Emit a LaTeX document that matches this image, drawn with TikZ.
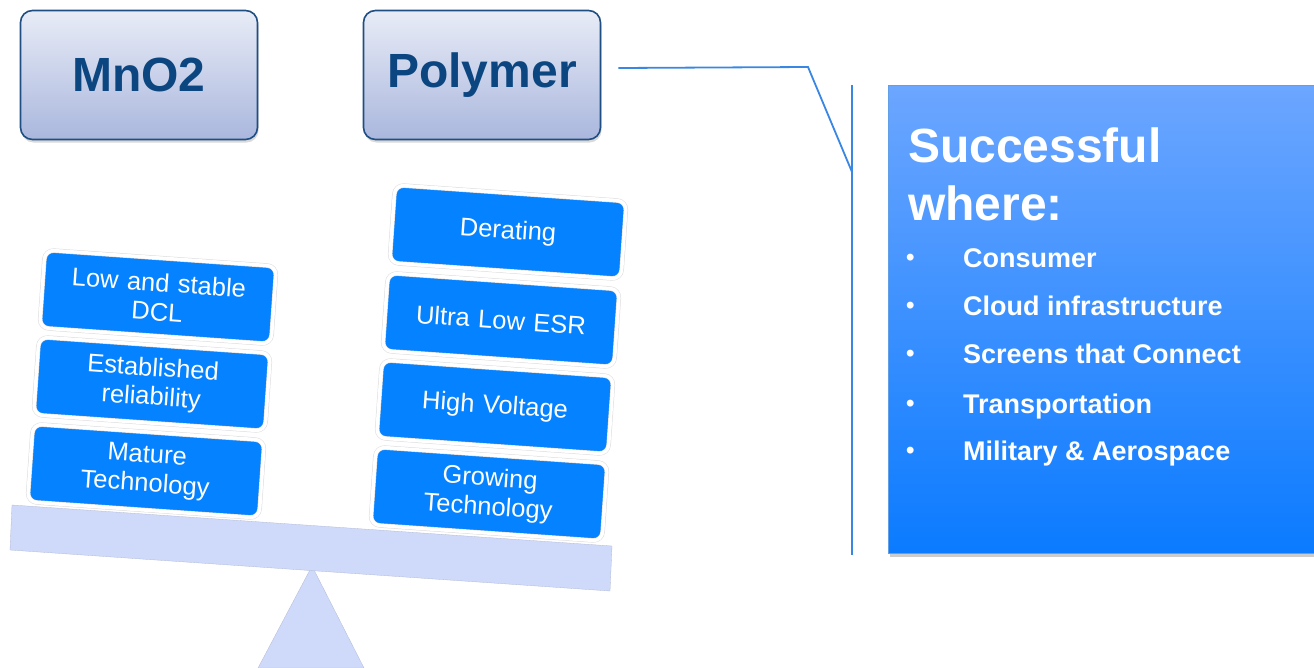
\documentclass[tikz,border=0pt]{standalone}
\usepackage{fontspec}
\setmainfont{Liberation Sans}
\usetikzlibrary{shadows}
\definecolor{hdrborder}{HTML}{1F4E82}
\definecolor{hdrtop}{HTML}{E8ECF7}
\definecolor{hdrbot}{HTML}{AAB7DD}
\definecolor{hdrtext}{HTML}{0B4680}
\definecolor{tileblue}{HTML}{0582FF}
\definecolor{beamcol}{HTML}{CFDAFA}
\definecolor{conncol}{HTML}{3A87E3}
\definecolor{bigtop}{HTML}{6CA6FF}
\definecolor{bigbot}{HTML}{0B7BFF}
\begin{document}
\begin{tikzpicture}[x=1pt,y=-1pt,
  hdr/.style={draw=hdrborder, line width=1.6pt, rounded corners=12pt,
    top color=hdrtop, bottom color=hdrbot, minimum width=237pt, minimum height=129pt,
    text=hdrtext, font=\fontsize{48}{56}\selectfont\bfseries,
    drop shadow={opacity=0.3,shadow xshift=1pt,shadow yshift=-3pt}},
  tile/.style={rectangle, rounded corners=9pt, fill=tileblue, draw=black!14,
    double=white, double distance=3.5pt, line width=0.5pt,
    minimum width=232pt, minimum height=78pt, text width=225pt, align=center,
    text=white, font=\fontsize{25.5}{29}\selectfont, rotate=-4, inner sep=0pt},
  beam/.style={fill=beamcol, draw=beamcol!85!black, line width=0.3pt},
  conn/.style={draw=conncol, line width=1.8pt},
  bigbox/.style={rectangle, draw=conncol!80, line width=0.8pt, top color=bigtop, bottom color=bigbot,
    drop shadow={opacity=0.4,shadow xshift=2pt,shadow yshift=-4pt}},
  bighead/.style={anchor=base west, inner sep=0pt, text=white, font=\fontsize{48}{56}\selectfont\bfseries},
  bulletmark/.style={anchor=base west, inner sep=0pt, text=white, font=\fontsize{24}{26}\selectfont\bfseries},
  bullettext/.style={anchor=base west, inner sep=0pt, text=white, font=\fontsize{27}{30}\selectfont\bfseries}
]
\useasboundingbox (0,0) rectangle (1314,667);

% header boxes
\node[hdr] (mno) at (139,75) {MnO2};
\node[hdr] (poly) at (482,75) {Polymer};

% balance
\fill[beam] (312,566) -- (364,668) -- (258,668) -- cycle;
\path[beam] (12,505) -- (612,546) -- (610,591) -- (10,550) -- cycle;

% left stack
\node[tile] (dcl) at (158,297) {Low and stable\\DCL};
\node[tile] (rel) at (152,384) {Established\\reliability};
\node[tile] (mat) at (146,471) {Mature\\Technology};

% right stack
\node[tile] (der) at (508,232) {Derating};
\node[tile] (esr) at (501,320) {Ultra Low ESR};
\node[tile] (hv) at (495,407) {High Voltage};
\node[tile] (grow) at (489,494) {Growing\\Technology};

% connector and bracket
\coordinate (bend) at (808,67);
\coordinate (tip) at (852,172);
\coordinate (brtop) at (852,85);
\coordinate (brbot) at (852,555);
\draw[conn] ([xshift=17pt,yshift=7pt]poly.east) -- (bend) -- (tip);
\draw[conn] (brtop) -- (brbot);

% info box
\path[bigbox] (888,85) rectangle (1318,553);
\node[bighead] (h1) at (908,162) {Successful};
\node[bighead] (h2) at (908,220) {where:};
\foreach \y/\t [count=\i] in {267/Consumer, 315/Cloud infrastructure, 363/Screens that Connect, 413/Transportation, 460/Military \& Aerospace}{
  \node[bulletmark] (b\i) at (906,\y-2) {•};
  \node[bullettext] (t\i) at (963,\y) {\t};
}
\end{tikzpicture}
\end{document}
